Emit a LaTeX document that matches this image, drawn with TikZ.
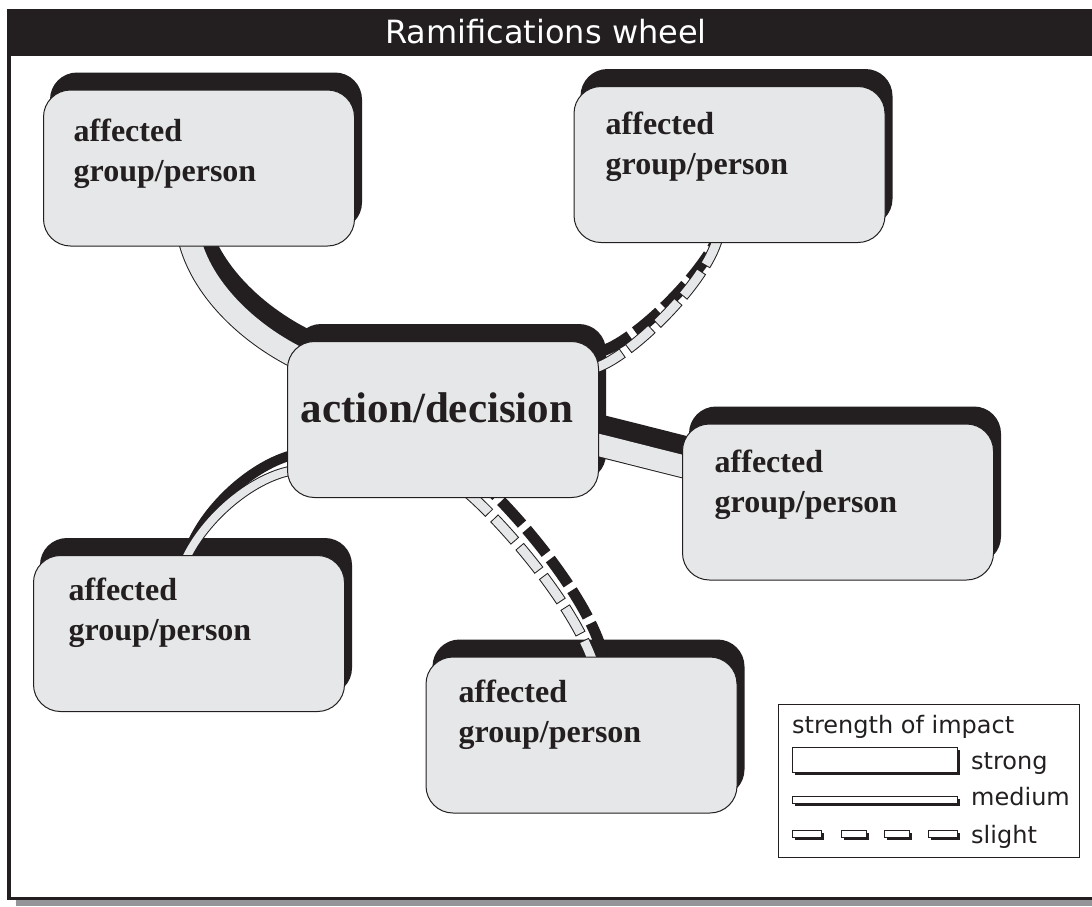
\documentclass[tikz,border=0pt]{standalone}
\usepackage{fontspec}
\setmainfont{Liberation Serif}
\newfontfamily\labelsans{DejaVu Sans}
\usetikzlibrary{calc,shadows}

\definecolor{ink}{HTML}{231F20}
\definecolor{panel}{HTML}{E6E7E8}
\definecolor{rim}{HTML}{939598}

\pgfdeclarelayer{boxshadow}
\pgfdeclarelayer{linkshadow}
\pgfdeclarelayer{linkband}
\pgfsetlayers{boxshadow,linkshadow,linkband,main}

\tikzset{
  card/.style={draw=ink, line width=1pt, fill=panel, rounded corners=27pt,
    minimum width=311pt, minimum height=156pt, inner sep=0pt},
  % two-line label; the base anchor sits on the second line
  cardtext/.style={font=\fontsize{32}{40}\selectfont\bfseries, text=ink,
    anchor=base west, align=left, inner sep=0pt},
  % connector strokes: dark rim and light band
  rimstrong/.style={line width=24pt},
  bandstrong/.style={line width=22pt},
  rimmedium/.style={line width=10pt},
  bandmedium/.style={line width=8pt},
  rimslight/.style={line width=11pt, dash pattern=on 31pt off 7pt, dash phase=1pt},
  bandslight/.style={line width=9pt, dash pattern=on 29pt off 9pt},
  legtext/.style={font=\labelsans\fontsize{24}{28}\selectfont, text=ink,
    anchor=base west, inner sep=0pt},
  legsym/.style={draw=ink, line width=0.9pt, fill=white, inner sep=0pt,
    anchor=north west,
    drop shadow={shadow xshift=3pt, shadow yshift=-3pt, fill=ink, opacity=1}},
}

% black offset shadow behind a card
\newcommand\cardshadow[1]{%
  \begin{pgfonlayer}{boxshadow}
    \fill[ink, rounded corners=27pt] ([shift={(7,-17)}]#1.south west)
      rectangle ([shift={(7,-17)}]#1.north east);
  \end{pgfonlayer}}

% connector: #1 rim style, #2 band style, #3 start, #4/#5 relative controls, #6 end
\newcommand\impactlink[6]{%
  \begin{pgfonlayer}{linkshadow}
    \draw[#1, ink] ([shift={(7,-17)}]#3) .. controls +(#4) and +(#5) .. ([shift={(7,-17)}]#6);
  \end{pgfonlayer}
  \begin{pgfonlayer}{linkband}
    \draw[#1, ink] (#3) .. controls +(#4) and +(#5) .. (#6);
    \draw[#2, panel] (#3) .. controls +(#4) and +(#5) .. (#6);
  \end{pgfonlayer}}

\begin{document}
\begin{tikzpicture}[x=1pt, y=-1pt]
  \useasboundingbox (0,0) rectangle (1092,906);

  % frame with title bar
  \fill[rim] (16,899.5) rectangle (1092,906);
  \draw[ink, line width=3.5pt] (9,55) -- (9,898.5) -- (1092,898.5);
  \fill[ink] (7,9) rectangle (1092,55.5);
  \node[font=\labelsans\fontsize{32}{36}\selectfont, text=white, anchor=base, inner sep=0pt]
    (title) at (546,43) {Ramifications wheel};

  % cards
  \node[card] (b1) at (199,168) {};
  \node[card] (b2) at (729.5,164.5) {};
  \node[card] (bc) at (443,419.5) {};
  \node[card] (b3) at (838,502) {};
  \node[card] (b4) at (189,633.5) {};
  \node[card] (b5) at (581.5,735) {};
  \foreach \c in {b1,b2,bc,b3,b4,b5} {\cardshadow{\c}}

  \node[cardtext] (t1) at ([shift={(30.5,92)}]b1.north west) {affected\\group/person};
  \node[cardtext] (t2) at ([shift={(32,88.5)}]b2.north west) {affected\\group/person};
  \node[cardtext] (t3) at ([shift={(32.5,89)}]b3.north west) {affected\\group/person};
  \node[cardtext] (t4) at ([shift={(35.5,85.5)}]b4.north west) {affected\\group/person};
  \node[cardtext] (t5) at ([shift={(33,86)}]b5.north west) {affected\\group/person};
  \node[font=\fontsize{43}{50}\selectfont\bfseries, text=ink, anchor=base, inner sep=0pt]
    (tc) at ([shift={(-6,2.5)}]bc.center) {action/decision};

  % connector ends
  \coordinate (s1) at ([shift={(146.5,-8)}]b1.south west);
  \coordinate (e1) at ([shift={(10.5,16.5)}]bc.north west);
  \coordinate (s2) at ([shift={(-2.5,26.5)}]bc.north east);
  \coordinate (e2) at ([shift={(144,-4.5)}]b2.south west);
  \coordinate (s3) at ([shift={(-8.5,23.5)}]bc.east);
  \coordinate (e3) at ([shift={(10.5,-33.5)}]b3.west);
  \coordinate (s4) at ([shift={(8.5,50.5)}]bc.west);
  \coordinate (e4) at ([shift={(151.5,6.5)}]b4.north west);
  \coordinate (s5) at ([shift={(180.5,-5.5)}]bc.south west);
  \coordinate (e5) at ([shift={(168,7)}]b5.north west);

  \impactlink{rimstrong}{bandstrong}{s1}{12,50}{-50,-25}{e1}
  \impactlink{rimslight}{bandslight}{s2}{35,-12}{-12,45}{e2}
  \impactlink{rimstrong}{bandstrong}{s3}{34,8.3}{-34,-8.3}{e3}
  \impactlink{rimmedium}{bandmedium}{s4}{-40,5}{20,-45}{e4}
  \impactlink{rimslight}{bandslight}{s5}{35,30}{-20,-60}{e5}

  % legend
  \node[draw=ink, line width=1.2pt, minimum width=301pt, minimum height=153pt,
    anchor=north west, inner sep=0pt] (legend) at (778,704) {};
  \node[legtext] (lhead) at (792,733) {strength of impact};
  \node[legsym, minimum width=165pt, minimum height=25pt] (lstrong) at (792,747) {};
  \node[legsym, minimum width=165pt, minimum height=6.5pt] (lmedium) at (792,796) {};
  \node[legsym, minimum width=29pt, minimum height=6.5pt] (lslight1) at (792,830) {};
  \node[legsym, minimum width=25pt, minimum height=6.5pt] (lslight2) at (841,830) {};
  \node[legsym, minimum width=25pt, minimum height=6.5pt] (lslight3) at (884,830) {};
  \node[legsym, minimum width=29pt, minimum height=6.5pt] (lslight4) at (928,830) {};
  \node[legtext] (lstrongt) at (971,769) {strong};
  \node[legtext] (lmediumt) at (971,805) {medium};
  \node[legtext] (lslightt) at (971,843) {slight};
\end{tikzpicture}
\end{document}
